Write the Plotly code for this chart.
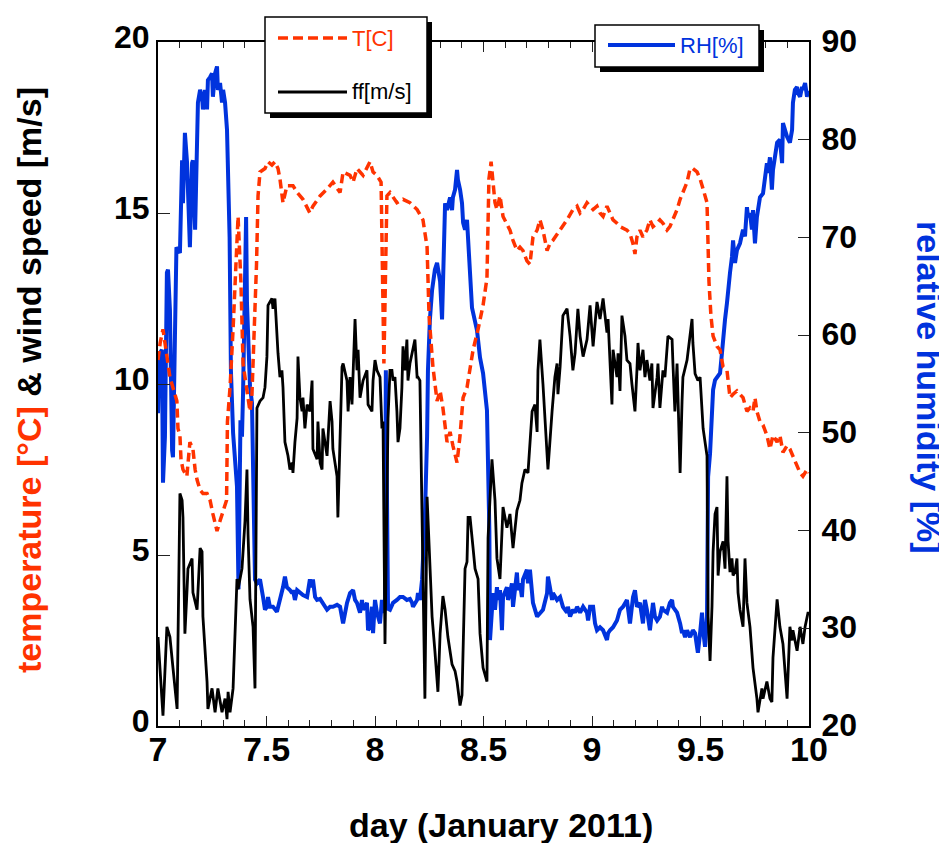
import plotly.graph_objects as go

# ---------------- data ----------------
temp_day = [
    7.000, 7.010, 7.023, 7.040, 7.055, 7.087, 7.092, 7.101, 7.106, 7.115,
    7.133, 7.147, 7.161, 7.171, 7.180, 7.194, 7.207, 7.226, 7.240, 7.253,
    7.272, 7.286, 7.300, 7.316, 7.320, 7.332, 7.346, 7.369, 7.382, 7.392,
    7.410, 7.424, 7.433, 7.447, 7.454, 7.461, 7.470, 7.493, 7.507, 7.525,
    7.539, 7.553, 7.562, 7.576, 7.594, 7.622, 7.641, 7.668, 7.700, 7.714,
    7.747, 7.779, 7.806, 7.839, 7.853, 7.885, 7.899, 7.917, 7.945, 7.977,
    7.991, 8.009, 8.028, 8.041, 8.055, 8.069, 8.101, 8.129, 8.161, 8.194,
    8.221, 8.240, 8.249, 8.267, 8.286, 8.300, 8.313, 8.332, 8.346, 8.359,
    8.378, 8.392, 8.406, 8.424, 8.438, 8.452, 8.475, 8.498, 8.516, 8.525,
    8.535, 8.544, 8.553, 8.562, 8.576, 8.590, 8.608, 8.622, 8.636, 8.654,
    8.668, 8.682, 8.700, 8.714, 8.728, 8.747, 8.760, 8.774, 8.793, 8.806,
    8.820, 8.853, 8.885, 8.912, 8.931, 8.945, 8.959, 8.977, 8.991, 9.005,
    9.023, 9.037, 9.051, 9.069, 9.083, 9.097, 9.115, 9.129, 9.161, 9.175,
    9.189, 9.198, 9.207, 9.221, 9.235, 9.253, 9.267, 9.281, 9.300, 9.313,
    9.327, 9.346, 9.359, 9.373, 9.392, 9.406, 9.419, 9.438, 9.452, 9.465,
    9.484, 9.498, 9.512, 9.530, 9.539, 9.548, 9.558, 9.576, 9.590, 9.604,
    9.622, 9.636, 9.650, 9.668, 9.682, 9.696, 9.714, 9.728, 9.742, 9.751,
    9.760, 9.774, 9.788, 9.806, 9.820, 9.834, 9.853, 9.866, 9.880, 9.899,
    9.912, 9.926, 9.945, 9.959, 9.972, 9.991, 10.000]
temp_val = [
    10.7, 11.2, 11.6, 10.8, 10.2, 9.5, 8.7, 8.5, 7.8, 7.5,
    7.3, 8.3, 8.1, 7.5, 7.2, 6.9, 6.8, 6.8, 6.6, 6.2,
    5.7, 6.0, 6.3, 6.6, 8.9, 9.9, 11.6, 14.9, 13.0, 10.6,
    9.8, 9.2, 9.7, 11.9, 13.5, 15.5, 16.2, 16.3, 16.5, 16.4,
    16.5, 16.3, 16.0, 15.3, 15.8, 15.8, 15.6, 15.4, 15.0, 15.2,
    15.5, 15.7, 15.9, 15.6, 16.2, 16.1, 15.9, 16.3, 16.1, 16.5,
    16.2, 16.1, 15.9, 10.6, 15.5, 15.6, 15.3, 15.4, 15.3, 15.1,
    14.8, 14.0, 12.0, 10.5, 9.5, 9.8, 9.3, 8.3, 8.6, 8.2,
    7.7, 8.5, 9.6, 9.9, 10.4, 11.0, 11.6, 12.3, 13.1, 16.0,
    16.5, 16.0, 15.3, 15.1, 15.5, 14.9, 14.7, 14.5, 14.2, 13.9,
    14.0, 13.9, 13.6, 13.5, 14.3, 14.5, 14.8, 14.5, 13.9, 14.1,
    14.2, 14.5, 14.8, 15.1, 15.2, 15.0, 15.1, 15.3, 15.2, 15.1,
    15.2, 15.0, 14.9, 15.2, 15.0, 14.8, 14.7, 14.6, 14.5, 14.4,
    14.1, 13.8, 14.3, 14.5, 14.3, 14.5, 14.8, 14.6, 14.7, 14.8,
    14.7, 14.5, 14.6, 14.8, 15.1, 15.4, 15.6, 15.9, 16.3, 16.3,
    16.2, 16.0, 15.7, 15.3, 13.0, 12.0, 11.4, 11.1, 11.0, 10.5,
    10.4, 9.6, 9.7, 9.8, 9.7, 9.6, 9.2, 9.3, 9.2, 9.6,
    9.2, 8.9, 8.8, 8.5, 8.1, 8.5, 8.3, 8.5, 8.0, 8.2,
    8.1, 7.9, 7.6, 7.4, 7.3, 7.5, 7.4]

wind_day = [
    7.000, 7.018, 7.023, 7.041, 7.055, 7.069, 7.088, 7.101, 7.111, 7.115,
    7.124, 7.134, 7.138, 7.157, 7.161, 7.180, 7.194, 7.203, 7.207, 7.226,
    7.230, 7.249, 7.263, 7.276, 7.295, 7.309, 7.318, 7.323, 7.332, 7.346,
    7.364, 7.369, 7.387, 7.401, 7.410, 7.415, 7.424, 7.438, 7.447, 7.456,
    7.470, 7.484, 7.493, 7.502, 7.507, 7.525, 7.530, 7.539, 7.548, 7.553,
    7.562, 7.571, 7.576, 7.585, 7.599, 7.608, 7.618, 7.622, 7.631, 7.641,
    7.645, 7.654, 7.664, 7.668, 7.677, 7.687, 7.700, 7.710, 7.714, 7.733,
    7.737, 7.747, 7.756, 7.760, 7.779, 7.793, 7.802, 7.806, 7.825, 7.829,
    7.848, 7.853, 7.871, 7.876, 7.885, 7.894, 7.908, 7.917, 7.922, 7.931,
    7.945, 7.963, 7.968, 7.986, 7.991, 8.000, 8.009, 8.023, 8.032, 8.037,
    8.046, 8.060, 8.069, 8.078, 8.083, 8.092, 8.101, 8.106, 8.115, 8.124,
    8.129, 8.138, 8.147, 8.152, 8.161, 8.171, 8.184, 8.194, 8.198, 8.207,
    8.217, 8.230, 8.240, 8.253, 8.263, 8.276, 8.290, 8.300, 8.313, 8.323,
    8.336, 8.355, 8.369, 8.378, 8.392, 8.401, 8.415, 8.424, 8.429, 8.438,
    8.447, 8.452, 8.461, 8.475, 8.484, 8.498, 8.516, 8.521, 8.539, 8.553,
    8.562, 8.576, 8.590, 8.608, 8.622, 8.636, 8.654, 8.668, 8.677, 8.691,
    8.705, 8.724, 8.737, 8.747, 8.751, 8.760, 8.774, 8.793, 8.797, 8.816,
    8.829, 8.839, 8.843, 8.853, 8.866, 8.885, 8.899, 8.912, 8.922, 8.935,
    8.945, 8.959, 8.977, 8.991, 9.005, 9.023, 9.037, 9.051, 9.069, 9.074,
    9.092, 9.097, 9.115, 9.120, 9.129, 9.138, 9.152, 9.161, 9.175, 9.184,
    9.198, 9.207, 9.212, 9.221, 9.235, 9.244, 9.253, 9.267, 9.276, 9.281,
    9.300, 9.304, 9.313, 9.327, 9.336, 9.350, 9.369, 9.373, 9.382, 9.392,
    9.396, 9.406, 9.415, 9.419, 9.438, 9.452, 9.461, 9.465, 9.475, 9.488,
    9.498, 9.512, 9.530, 9.535, 9.544, 9.553, 9.558, 9.567, 9.576, 9.581,
    9.590, 9.604, 9.613, 9.622, 9.627, 9.636, 9.645, 9.650, 9.659, 9.668,
    9.673, 9.682, 9.696, 9.705, 9.714, 9.728, 9.737, 9.742, 9.760, 9.765,
    9.783, 9.788, 9.806, 9.820, 9.829, 9.834, 9.853, 9.866, 9.880, 9.899,
    9.912, 9.922, 9.926, 9.945, 9.959, 9.972, 9.982, 9.995, 10.000]
wind_val = [
    2.6, 1.0, 0.3, 2.9, 2.6, 1.7, 0.5, 6.8, 6.6, 6.1,
    2.7, 4.0, 4.6, 4.9, 3.9, 3.4, 5.2, 5.1, 3.2, 1.3,
    0.5, 1.1, 0.4, 1.1, 0.4, 0.8, 0.2, 1.0, 0.4, 1.1,
    4.3, 4.0, 4.6, 6.0, 7.5, 5.6, 3.7, 2.9, 1.1, 9.3,
    9.5, 9.6, 9.9, 10.8, 12.3, 12.5, 12.2, 12.5, 11.2, 10.9,
    10.2, 10.4, 9.9, 8.3, 7.9, 7.5, 7.7, 7.4, 8.3, 9.0,
    10.8, 9.6, 9.2, 9.6, 8.7, 9.4, 9.2, 10.1, 8.1, 7.8,
    8.9, 7.7, 7.5, 8.7, 7.9, 9.5, 8.9, 8.1, 7.3, 6.1,
    10.5, 10.6, 10.1, 9.2, 10.2, 9.4, 11.9, 10.4, 11.0, 9.6,
    10.1, 10.4, 9.4, 9.2, 10.1, 10.7, 10.4, 10.2, 8.7, 8.9,
    2.4, 9.0, 10.4, 10.4, 10.1, 10.2, 9.2, 8.3, 8.7, 9.9,
    11.1, 10.4, 11.3, 10.1, 10.6, 10.9, 11.3, 10.2, 10.2, 10.1,
    6.0, 0.8, 6.7, 4.9, 3.2, 2.2, 1.0, 2.7, 3.8, 3.4,
    2.6, 1.8, 1.6, 1.3, 0.6, 0.9, 4.6, 4.8, 6.1, 6.1,
    5.4, 5.2, 4.6, 4.3, 2.7, 1.7, 1.3, 5.5, 7.8, 6.6,
    4.9, 4.3, 6.4, 5.8, 6.2, 5.2, 6.3, 6.6, 7.1, 7.5,
    7.4, 9.2, 9.4, 8.6, 10.4, 11.3, 10.0, 7.9, 7.5, 9.2,
    10.2, 10.6, 9.7, 10.5, 12.0, 12.2, 11.4, 10.4, 10.9, 12.2,
    11.4, 10.8, 11.3, 12.3, 11.1, 12.4, 11.9, 12.5, 11.5, 11.9,
    9.4, 11.0, 10.2, 10.9, 9.8, 12.0, 11.4, 10.7, 10.6, 10.0,
    9.2, 10.4, 11.2, 10.4, 11.0, 10.2, 10.7, 10.1, 10.6, 9.3,
    10.2, 10.6, 9.3, 10.4, 10.2, 11.4, 11.3, 10.6, 9.2, 10.6,
    9.6, 7.4, 9.5, 10.2, 10.7, 11.4, 11.9, 11.2, 10.3, 10.1,
    10.2, 8.7, 7.9, 3.2, 1.9, 3.5, 5.1, 6.2, 6.4, 4.4,
    5.1, 5.4, 4.6, 7.3, 5.4, 4.5, 4.9, 4.4, 4.5, 4.9,
    3.9, 3.4, 2.9, 4.9, 3.6, 2.9, 2.2, 1.7, 0.8, 0.4,
    1.1, 0.8, 1.3, 0.8, 0.7, 2.0, 3.7, 2.9, 2.4, 0.8,
    2.9, 2.5, 2.8, 2.2, 2.9, 2.4, 2.9, 3.3, 3.3]

rh_day = [
    7.000, 7.005, 7.018, 7.023, 7.032, 7.041, 7.046, 7.055, 7.065, 7.069,
    7.078, 7.085, 7.101, 7.111, 7.115, 7.124, 7.134, 7.138, 7.147, 7.157,
    7.161, 7.171, 7.180, 7.184, 7.194, 7.203, 7.207, 7.217, 7.226, 7.230,
    7.240, 7.249, 7.253, 7.263, 7.272, 7.276, 7.286, 7.295, 7.300, 7.309,
    7.318, 7.323, 7.330, 7.336, 7.346, 7.364, 7.371, 7.380, 7.387, 7.392,
    7.406, 7.410, 7.415, 7.424, 7.433, 7.440, 7.447, 7.456, 7.470, 7.484,
    7.493, 7.502, 7.507, 7.516, 7.530, 7.548, 7.562, 7.576, 7.585, 7.594,
    7.608, 7.618, 7.622, 7.631, 7.641, 7.654, 7.668, 7.687, 7.700, 7.710,
    7.714, 7.724, 7.733, 7.747, 7.760, 7.779, 7.793, 7.806, 7.825, 7.839,
    7.853, 7.862, 7.871, 7.885, 7.899, 7.908, 7.917, 7.931, 7.940, 7.945,
    7.963, 7.968, 7.977, 7.986, 7.991, 8.000, 8.009, 8.023, 8.032, 8.037,
    8.046, 8.050, 8.060, 8.069, 8.083, 8.101, 8.115, 8.129, 8.147, 8.161,
    8.171, 8.175, 8.194, 8.198, 8.207, 8.217, 8.230, 8.240, 8.244, 8.253,
    8.263, 8.276, 8.286, 8.300, 8.309, 8.323, 8.332, 8.346, 8.355, 8.359,
    8.369, 8.378, 8.382, 8.392, 8.401, 8.406, 8.415, 8.424, 8.429, 8.438,
    8.447, 8.452, 8.470, 8.484, 8.498, 8.516, 8.521, 8.527, 8.530, 8.539,
    8.544, 8.553, 8.562, 8.567, 8.576, 8.585, 8.590, 8.608, 8.613, 8.622,
    8.631, 8.636, 8.654, 8.659, 8.668, 8.677, 8.682, 8.700, 8.705, 8.714,
    8.724, 8.728, 8.747, 8.760, 8.774, 8.793, 8.797, 8.806, 8.816, 8.820,
    8.839, 8.853, 8.866, 8.885, 8.889, 8.899, 8.912, 8.922, 8.931, 8.945,
    8.959, 8.977, 8.982, 8.991, 9.005, 9.014, 9.023, 9.037, 9.051, 9.069,
    9.074, 9.083, 9.097, 9.115, 9.129, 9.143, 9.161, 9.175, 9.189, 9.198,
    9.207, 9.221, 9.235, 9.244, 9.253, 9.267, 9.281, 9.290, 9.300, 9.313,
    9.323, 9.327, 9.346, 9.359, 9.369, 9.373, 9.392, 9.406, 9.415, 9.419,
    9.429, 9.438, 9.442, 9.452, 9.465, 9.475, 9.484, 9.488, 9.498, 9.507,
    9.512, 9.521, 9.530, 9.535, 9.544, 9.553, 9.558, 9.567, 9.576, 9.590,
    9.599, 9.604, 9.613, 9.622, 9.627, 9.636, 9.645, 9.650, 9.659, 9.668,
    9.682, 9.696, 9.705, 9.714, 9.719, 9.728, 9.737, 9.742, 9.751, 9.760,
    9.774, 9.788, 9.806, 9.811, 9.820, 9.829, 9.834, 9.853, 9.866, 9.876,
    9.880, 9.899, 9.912, 9.922, 9.926, 9.935, 9.945, 9.949, 9.959, 9.968,
    9.972, 9.982, 9.991, 10.000]
rh_val = [
    52.0, 58.0, 58.5, 44.9, 49.6, 66.4, 66.7, 62.6, 48.2, 47.5,
    59.8, 69.0, 68.4, 77.9, 73.5, 80.7, 77.6, 74.9, 69.0, 77.6,
    77.9, 70.8, 77.6, 83.8, 85.1, 84.4, 83.1, 85.1, 83.1, 86.1,
    86.4, 86.8, 84.4, 86.8, 87.5, 85.1, 85.8, 83.8, 85.1, 83.8,
    81.0, 75.6, 70.0, 56.4, 50.0, 44.5, 34.0, 51.3, 49.6, 54.1,
    72.1, 63.3, 60.0, 54.7, 53.1, 40.0, 35.0, 34.6, 35.0, 33.2,
    31.9, 32.2, 33.2, 32.2, 32.2, 31.7, 32.9, 34.2, 35.3, 34.2,
    33.9, 33.6, 33.9, 32.9, 33.9, 33.6, 33.4, 33.2, 35.0, 34.2,
    35.0, 33.2, 32.9, 33.0, 32.6, 31.9, 32.2, 32.2, 32.4, 32.2,
    30.5, 31.9, 32.6, 33.6, 33.9, 32.9, 32.6, 31.6, 32.9, 31.9,
    32.6, 29.8, 30.1, 32.2, 29.5, 32.9, 31.6, 30.5, 32.9, 31.6,
    32.0, 56.4, 32.0, 31.9, 32.6, 32.9, 33.2, 33.2, 32.9, 33.0,
    32.6, 32.2, 32.9, 33.6, 32.9, 35.0, 41.4, 49.6, 56.4, 61.6,
    64.6, 66.7, 67.4, 65.5, 61.6, 73.5, 72.8, 74.1, 72.8, 74.1,
    74.9, 76.9, 75.9, 74.9, 73.5, 71.5, 70.8, 71.8, 69.4, 65.0,
    62.8, 62.3, 60.5, 57.7, 56.1, 52.3, 47.5, 40.0, 28.8, 31.9,
    33.6, 31.9, 34.2, 32.9, 33.9, 29.8, 33.2, 34.2, 32.9, 33.6,
    34.6, 32.2, 35.7, 33.9, 34.6, 33.2, 35.0, 36.0, 34.6, 36.0,
    33.6, 32.6, 31.2, 31.6, 31.9, 33.6, 35.3, 34.2, 32.9, 33.6,
    32.9, 33.2, 32.2, 31.6, 32.2, 31.2, 31.9, 31.6, 32.2, 31.6,
    32.2, 31.6, 30.8, 32.2, 32.2, 30.5, 29.8, 30.1, 29.8, 28.8,
    29.5, 29.8, 30.1, 30.8, 31.9, 32.2, 32.9, 30.5, 33.2, 33.9,
    32.2, 32.6, 30.5, 32.9, 31.9, 29.8, 32.6, 31.2, 30.8, 31.2,
    32.2, 31.9, 31.6, 32.6, 32.9, 32.2, 31.6, 30.5, 29.5, 29.8,
    29.1, 29.8, 29.5, 29.1, 29.8, 29.5, 28.1, 27.5, 29.5, 31.6,
    29.8, 28.1, 31.2, 45.5, 47.9, 52.3, 54.4, 55.4, 55.7, 56.1,
    58.2, 59.8, 61.6, 63.3, 64.6, 66.4, 68.0, 69.7, 67.4, 68.7,
    69.4, 70.8, 70.1, 73.1, 72.1, 72.5, 70.8, 72.8, 69.4, 72.1,
    74.1, 74.5, 77.6, 76.6, 78.2, 74.9, 76.9, 79.7, 80.0, 77.6,
    81.7, 80.3, 79.7, 81.0, 83.8, 85.1, 85.4, 84.8, 84.4, 85.4,
    85.1, 85.8, 84.4, 85.0]

x_tick_vals = [7, 7.5, 8, 8.5, 9, 9.5, 10]
x_tick_text = ["7", "7.5", "8", "8.5", "9", "9.5", "10"]

# ---------------- styling ----------------
RED = "#ff3300"
BLUE = "#0033dd"
FONT = "Liberation Sans, Arial, Helvetica, sans-serif"

OFF = 8                      # the page body margin offsets the figure by 8 px
W, H = 947 - OFF, 843 - OFF  # figure size
L, T = 158 - OFF, 42 - OFF   # plot area left/top (page 158, 42)
R = W - (809 - OFF)          # plot area right at page 809
B = H - (726 - OFF)          # plot area bottom at page 726
PW, PH = W - L - R, H - T - B


def px(xp):
    """page x pixel -> paper fraction"""
    return (xp - OFF - L) / PW


def py(yp):
    """page y pixel -> paper fraction"""
    return (H - B - (yp - OFF)) / PH


fig = go.Figure()
fig.add_trace(go.Scatter(x=rh_day, y=rh_val, mode="lines", yaxis="y",
                         line=dict(color=BLUE, width=4), name="RH[%]"))
fig.add_trace(go.Scatter(x=temp_day, y=temp_val, mode="lines", yaxis="y2",
                         line=dict(color=RED, width=3.5, dash="9px,5px"), name="T[C]"))
fig.add_trace(go.Scatter(x=wind_day, y=wind_val, mode="lines", yaxis="y2",
                         line=dict(color="black", width=2.8), name="ff[m/s]"))

fig.update_layout(
    width=W, height=H,
    margin=dict(l=L, r=R, t=T, b=B, pad=0),
    paper_bgcolor="white", plot_bgcolor="white",
    showlegend=False,
    xaxis=dict(range=[7, 10], tickvals=x_tick_vals, ticktext=x_tick_text,
               ticks="inside", ticklen=10, tickwidth=1, tickcolor="#222",
               showline=True, linewidth=2, linecolor="black", mirror="ticks",
               showgrid=False, zeroline=False, ticklabelstandoff=-8,
               minor=dict(dtick=0.1, ticks="inside", ticklen=6, tickwidth=1,
                          tickcolor="#222", showgrid=False),
               tickfont=dict(family=FONT, size=34, color="black", weight="bold")),
    yaxis=dict(range=[20, 90], side="right", dtick=10,
               ticks="inside", ticklen=11, tickwidth=1, tickcolor="#222",
               showline=True, linewidth=2, linecolor="black",
               showgrid=False, zeroline=False,
               ticklabelstandoff=4, ticklabelshift=-1,
               tickfont=dict(family=FONT, size=32, color="black", weight="bold")),
    yaxis2=dict(range=[0, 20], side="left", overlaying="y", dtick=5,
                ticks="inside", ticklen=12, tickwidth=1, tickcolor="#222",
                showline=True, linewidth=2, linecolor="black",
                showgrid=False, zeroline=False, ticklabelshift=-5,
                tickfont=dict(family=FONT, size=32, color="black", weight="bold")),
)

# ---------------- axis titles ----------------
title_font = dict(family=FONT, size=34, color="black", weight="bold")
fig.add_annotation(xref="paper", yref="paper", x=px(501), y=py(825),
                   text="day (January 2011)", showarrow=False,
                   xanchor="center", yanchor="middle", font=title_font)
fig.add_annotation(xref="paper", yref="paper", x=px(29), y=py(380),
                   text=f"<span style='color:{RED}'>temperature [°C]</span> &amp; wind speed [m/s]",
                   showarrow=False, textangle=-90,
                   xanchor="center", yanchor="middle",
                   font=dict(family=FONT, size=34, color="black", weight="bold"))
fig.add_annotation(xref="paper", yref="paper", x=px(929), y=py(387),
                   text="relative humidity [%]", showarrow=False, textangle=90,
                   xanchor="center", yanchor="middle",
                   font=dict(family=FONT, size=34, color=BLUE, weight="bold"))

# ---------------- hand-drawn legend boxes with shadows ----------------
def box(x0, y0, x1, y1, sh=5):
    fig.add_shape(type="rect", xref="paper", yref="paper", layer="above",
                  x0=px(x0 + sh), x1=px(x1 + sh), y0=py(y1 + sh), y1=py(y0 + sh),
                  fillcolor="black", line=dict(width=0))
    fig.add_shape(type="rect", xref="paper", yref="paper", layer="above",
                  x0=px(x0), x1=px(x1), y0=py(y1), y1=py(y0),
                  fillcolor="white", line=dict(color="black", width=1.5))


def sample(x0, x1, y, color, dash, width, label):
    fig.add_shape(type="line", xref="paper", yref="paper", layer="above",
                  x0=px(x0), x1=px(x1), y0=py(y), y1=py(y),
                  line=dict(color=color, width=width, dash=dash))
    fig.add_annotation(xref="paper", yref="paper", x=px(x1 + 3), y=py(y),
                       text=label, showarrow=False, xanchor="left", yanchor="middle",
                       font=dict(family=FONT, size=22, color=color))


box(265, 17, 427, 113)
sample(278, 347, 38, RED, "10px,5px", 3.5, "T[C]")
sample(278, 347, 92, "black", "solid", 3, "ff[m/s]")
box(595, 25, 759, 67)
sample(608, 675, 45, BLUE, "solid", 4, "RH[%]")

fig.write_html("out.html")
